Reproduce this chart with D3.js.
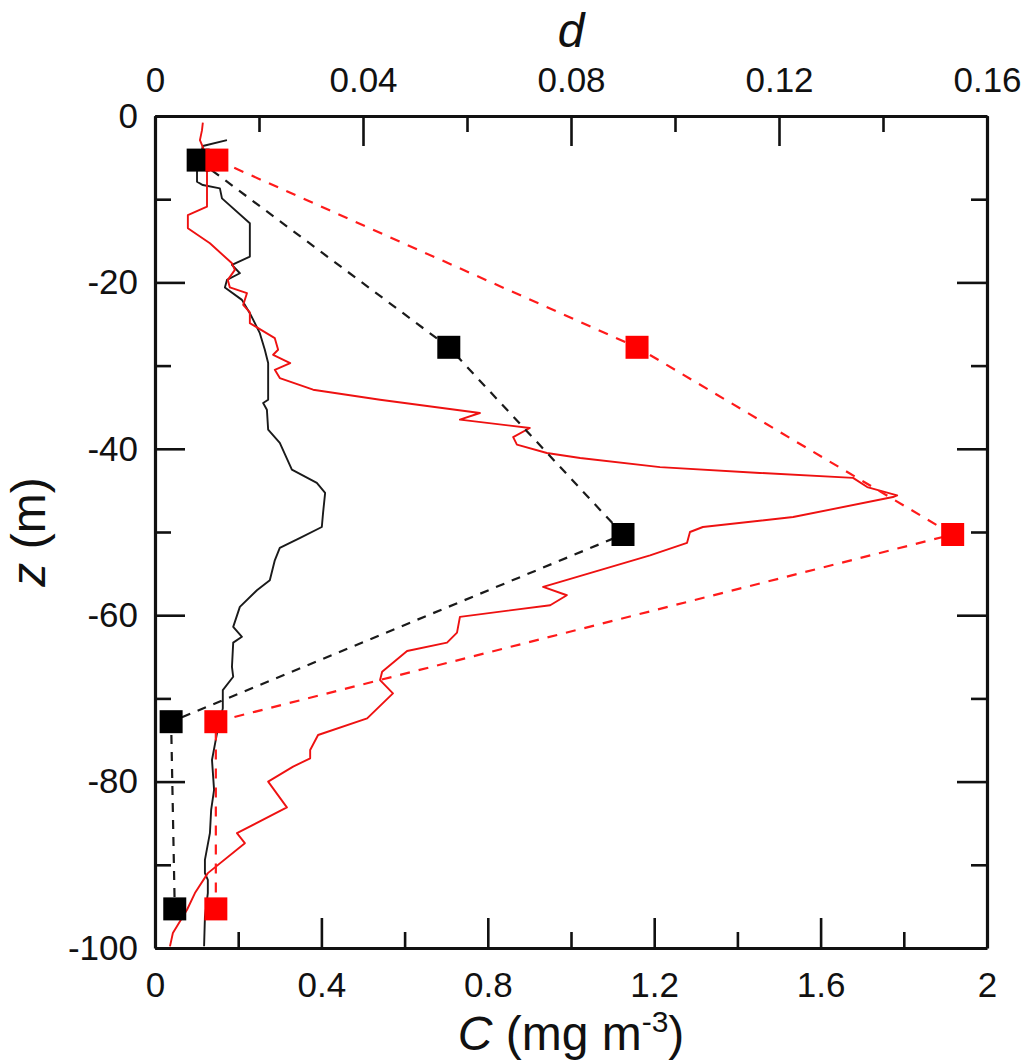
<!DOCTYPE html>
<html>
<head>
<meta charset="utf-8">
<script src="https://cdn.jsdelivr.net/npm/d3@7/dist/d3.min.js"></script>
<style>
  html, body { margin: 0; padding: 0; background: #fff; }
  svg { display: block; }
  text { font-family: "Liberation Sans", Arial, sans-serif; fill: #111; }
</style>
</head>
<body>
<svg id="chart" width="1024" height="1062"></svg>
<script>
// ---------------- data ----------------
// Black solid profile: C (mg m-3) vs depth z (m)
const blackC = [0.173,0.115,0.101,0.101,0.115,0.156,0.161,0.228,0.228,0.185,0.204,0.173,0.168,0.209,0.228,0.252,0.264,0.272,0.272,0.260,0.269,0.272,0.300,0.329,0.389,0.409,0.404,0.401,0.349,0.300,0.288,0.276,0.245,0.204,0.188,0.209,0.188,0.185,0.188,0.163,0.163,0.149,0.137,0.142,0.135,0.132,0.120,0.120,0.127,0.127,0.120,0.118];
const blackZ = [-2.9,-3.6,-6.7,-7.9,-8.3,-8.7,-9.9,-12.9,-16.9,-17.9,-18.9,-19.7,-20.6,-22.1,-23.7,-26.1,-28.1,-29.7,-34.1,-34.5,-35.3,-37.7,-39.3,-42.5,-44.1,-45.3,-47.7,-49.4,-50.7,-51.9,-53.4,-55.8,-57.0,-59.0,-61.4,-62.6,-63.3,-66.2,-67.4,-69.0,-71.2,-74.2,-77.4,-81.0,-83.4,-86.2,-89.4,-91.0,-91.8,-93.4,-96.3,-99.8];

// Red solid profile: C (mg m-3) vs depth z (m)
const redC = [0.115,0.113,0.108,0.118,0.125,0.125,0.125,0.079,0.079,0.132,0.185,0.192,0.175,0.180,0.221,0.212,0.228,0.228,0.245,0.288,0.296,0.284,0.325,0.288,0.300,0.380,0.541,0.781,0.733,0.901,0.861,0.870,0.942,1.022,1.214,1.454,1.678,1.712,1.784,1.774,1.534,1.317,1.286,1.279,1.190,0.974,0.933,0.990,0.950,0.733,0.726,0.702,0.606,0.546,0.541,0.572,0.510,0.392,0.373,0.373,0.332,0.272,0.317,0.197,0.216,0.127,0.096,0.077,0.043,0.036];
const redZ = [-0.8,-1.7,-2.9,-4.1,-5.9,-6.9,-10.9,-11.9,-13.5,-15.3,-17.7,-18.5,-19.7,-20.6,-21.3,-22.7,-23.6,-24.9,-25.4,-26.7,-28.1,-28.7,-29.7,-30.5,-31.5,-32.9,-34.1,-35.7,-36.5,-37.5,-38.6,-39.5,-40.5,-41.1,-42.2,-42.9,-43.5,-44.6,-45.6,-45.8,-48.2,-49.4,-50.0,-51.3,-52.8,-56.0,-56.6,-57.6,-58.8,-60.2,-62.1,-63.3,-64.3,-66.8,-67.8,-69.4,-72.4,-74.4,-76.2,-77.2,-78.2,-80.0,-83.1,-86.2,-87.4,-91.0,-93.4,-95.4,-98.2,-99.8];

// Sampled points (top axis d) at five depths
const sampleZ = [-5.3, -27.8, -50.3, -72.8, -95.3];
const blackD  = [0.0083, 0.0565, 0.0900, 0.0031, 0.0038];
const redD    = [0.0119, 0.0927, 0.1534, 0.0117, 0.0117];

// Tick values / labels
const bottomMajor = [0, 0.4, 0.8, 1.2, 1.6, 2];
const bottomMinor = [0.2, 0.6, 1.0, 1.4, 1.8];
const topMajor = [0, 0.04, 0.08, 0.12, 0.16];
const topMinor = [0.02, 0.06, 0.10, 0.14];
const leftMajor = [0, -20, -40, -60, -80, -100];
const leftMinor = [-10, -30, -50, -70, -90];

// ---------------- layout ----------------
const L = 155, R = 987, T = 116, B = 948;
const svg = d3.select("#chart");

const xC = d3.scaleLinear().domain([0, 2]).range([L, R]);
const xD = d3.scaleLinear().domain([0, 0.16]).range([L, R]);
const y  = d3.scaleLinear().domain([0, -100]).range([T, B]);

const fontTick = 35, major = 30, minor = 16;

function styleAxis(g) {
  g.selectAll("path.domain").attr("stroke", "#111").attr("stroke-width", 3.2);
  g.selectAll(".tick line").attr("stroke", "#111").attr("stroke-width", 2.6);
  g.selectAll(".tick text").attr("font-size", fontTick)
    .attr("font-family", '"Liberation Sans", Arial, sans-serif').attr("fill", "#111");
}

// ---------------- plot content ----------------
const plot = svg.append("g");

const lineC = d3.line().x(d => xC(d[0])).y(d => y(d[1]));
const lineD = d3.line().x(d => xD(d[0])).y(d => y(d[1]));

plot.append("path")
  .datum(blackC.map((c, i) => [c, blackZ[i]]))
  .attr("d", lineC).attr("fill", "none")
  .attr("stroke", "#1a1a1a").attr("stroke-width", 1.9).attr("stroke-linejoin", "round");

plot.append("path")
  .datum(redC.map((c, i) => [c, redZ[i]]))
  .attr("d", lineC).attr("fill", "none")
  .attr("stroke", "#ee1111").attr("stroke-width", 1.9).attr("stroke-linejoin", "round");

const blackPts = blackD.map((d, i) => [d, sampleZ[i]]);
const redPts = redD.map((d, i) => [d, sampleZ[i]]);

plot.append("path").datum(blackPts).attr("d", lineD).attr("fill", "none")
  .attr("stroke", "#1a1a1a").attr("stroke-width", 2.2).attr("stroke-dasharray", "9,8");
plot.append("path").datum(redPts).attr("d", lineD).attr("fill", "none")
  .attr("stroke", "#ff1a1a").attr("stroke-width", 2.2).attr("stroke-dasharray", "10,9");

const sq = 23;
plot.selectAll("rect.bk").data(blackPts).enter().append("rect")
  .attr("x", d => xD(d[0]) - sq / 2).attr("y", d => y(d[1]) - sq / 2)
  .attr("width", sq).attr("height", sq).attr("fill", "#000");
plot.selectAll("rect.rd").data(redPts).enter().append("rect")
  .attr("x", d => xD(d[0]) - sq / 2).attr("y", d => y(d[1]) - sq / 2)
  .attr("width", sq).attr("height", sq).attr("fill", "#ff0000");

// ---------------- axes ----------------
const fmt = d => String(d);

// bottom
svg.append("g").attr("transform", `translate(0,${B})`)
  .call(d3.axisBottom(xC).tickValues(bottomMajor).tickFormat(fmt).tickSize(-major).tickSizeOuter(0).tickPadding(24))
  .call(styleAxis);
svg.append("g").attr("transform", `translate(0,${B})`)
  .call(d3.axisBottom(xC).tickValues(bottomMinor).tickFormat("").tickSize(-minor).tickSizeOuter(0))
  .call(styleAxis).call(g => g.select(".domain").remove());

// top
svg.append("g").attr("transform", `translate(0,${T})`)
  .call(d3.axisTop(xD).tickValues(topMajor).tickFormat(fmt).tickSize(-major).tickSizeOuter(0).tickPadding(24))
  .call(styleAxis);
svg.append("g").attr("transform", `translate(0,${T})`)
  .call(d3.axisTop(xD).tickValues(topMinor).tickFormat("").tickSize(-minor).tickSizeOuter(0))
  .call(styleAxis).call(g => g.select(".domain").remove());

// left
svg.append("g").attr("transform", `translate(${L},0)`)
  .call(d3.axisLeft(y).tickValues(leftMajor).tickFormat(fmt).tickSize(-major).tickSizeOuter(0).tickPadding(17))
  .call(styleAxis);
svg.append("g").attr("transform", `translate(${L},0)`)
  .call(d3.axisLeft(y).tickValues(leftMinor).tickFormat("").tickSize(-minor).tickSizeOuter(0))
  .call(styleAxis).call(g => g.select(".domain").remove());

// right
svg.append("g").attr("transform", `translate(${R},0)`)
  .call(d3.axisRight(y).tickValues(leftMajor).tickFormat("").tickSize(-major).tickSizeOuter(0))
  .call(styleAxis);
svg.append("g").attr("transform", `translate(${R},0)`)
  .call(d3.axisRight(y).tickValues(leftMinor).tickFormat("").tickSize(-minor).tickSizeOuter(0))
  .call(styleAxis).call(g => g.select(".domain").remove());

// ---------------- axis titles ----------------
const titleSize = 48;

svg.append("text").attr("x", (L + R) / 2).attr("y", 47)
  .attr("text-anchor", "middle").attr("font-size", titleSize)
  .attr("font-style", "italic").text("d");

const xt = svg.append("text").attr("x", (L + R) / 2).attr("y", 1050)
  .attr("text-anchor", "middle").attr("font-size", titleSize);
xt.append("tspan").attr("font-style", "italic").text("C");
xt.append("tspan").text(" (mg m");
xt.append("tspan").attr("font-size", 30).attr("dy", -18).text("-3");
xt.append("tspan").attr("dy", 18).text(")");

const yt = svg.append("text")
  .attr("transform", `translate(45,${(T + B) / 2}) rotate(-90)`)
  .attr("text-anchor", "middle").attr("font-size", titleSize);
yt.append("tspan").attr("font-style", "italic").text("z");
yt.append("tspan").text(" (m)");
</script>
</body>
</html>
